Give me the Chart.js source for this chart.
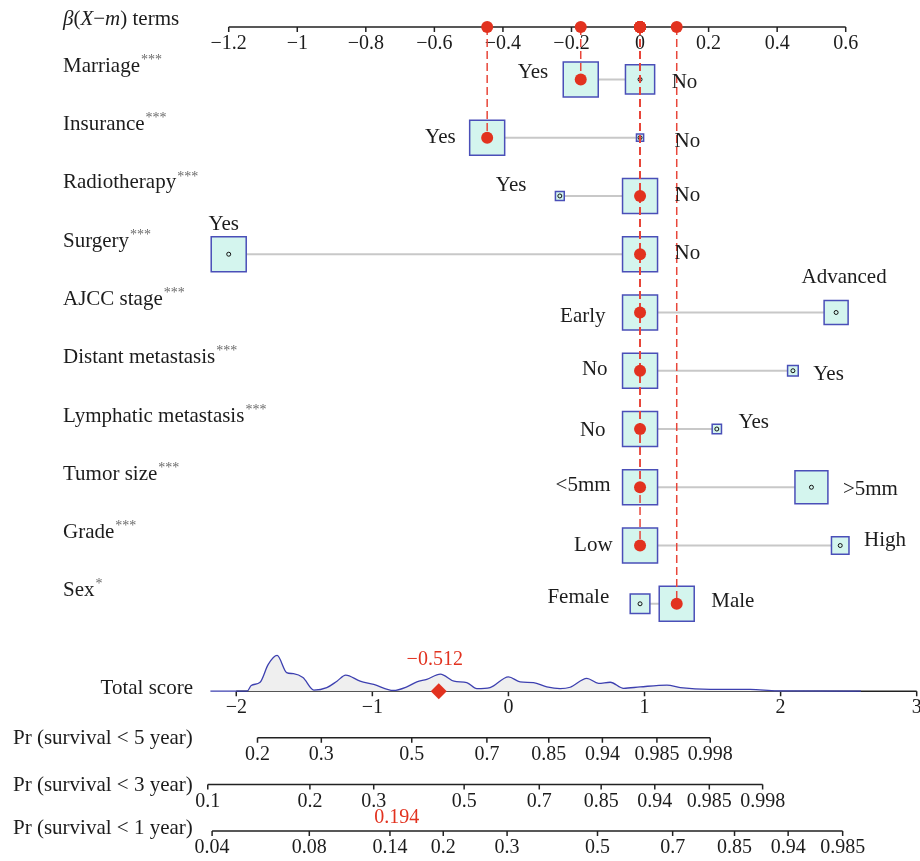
<!DOCTYPE html>
<html lang="en">
  <head>
    <meta charset="UTF-8" />
    <title>Nomogram - Chart.js</title>
    <script src="https://cdn.jsdelivr.net/npm/chart.js"></script>
    <style>
      body {
        margin: 0;
        background: #ffffff;
      }
      canvas {
        display: block;
      }
    </style>
  </head>
  <body>
    <canvas id="nomogram" width="920" height="861"></canvas>

    <script>
      const variables = [
        "Marriage",
        "Insurance",
        "Radiotherapy",
        "Surgery",
        "AJCC stage",
        "Distant metastasis",
        "Lymphatic metastasis",
        "Tumor size",
        "Grade",
        "Sex",
      ];
      const signif = ["***", "***", "***", "***", "***", "***", "***", "***", "***", "*"];
      const levels = [
        ["Yes", "No"],
        ["Yes", "No"],
        ["Yes", "No"],
        ["Yes", "No"],
        ["Early", "Advanced"],
        ["No", "Yes"],
        ["No", "Yes"],
        ["<5mm", ">5mm"],
        ["Low", "High"],
        ["Female", "Male"],
      ];
      // beta(X-m) term of each level
      const betaTerms = [
        [-0.173, 0],
        [-0.446, 0],
        [-0.234, 0],
        [-1.2, 0],
        [0, 0.572],
        [0, 0.446],
        [0, 0.224],
        [0, 0.5],
        [0, 0.584],
        [0, 0.107],
      ];
      // share of patients in each level (box area)
      const levelFreq = [
        [0.59, 0.41],
        [0.96, 0.04],
        [0.06, 0.94],
        [0.5, 0.5],
        [0.68, 0.32],
        [0.915, 0.085],
        [0.934, 0.066],
        [0.53, 0.47],
        [0.8, 0.2],
        [0.24, 0.76],
      ];
      // level of the highlighted patient
      const selected = [0, 0, 1, 1, 0, 0, 0, 0, 0, 1];

      const betaTicks = [-1.2, -1, -0.8, -0.6, -0.4, -0.2, 0, 0.2, 0.4, 0.6];
      const scoreTicks = [-2, -1, 0, 1, 2, 3];

      // total score distribution (relative density)
      const densityScore = [
        -2.19, -1.92, -1.89, -1.825, -1.765, -1.7, -1.63, -1.58, -1.51, -1.43,
        -1.335, -1.26, -1.196, -1.09, -0.99, -0.845, -0.747, -0.673, -0.6, -0.5,
        -0.4, -0.306, -0.232, -0.135, 0, 0.086, 0.184, 0.282, 0.38, 0.454, 0.576,
        0.662, 0.748, 0.846, 0.968, 1.165, 1.263, 1.483, 1.777, 1.973, 2.59,
      ];
      const densityValue = [
        0, 0, 0.16, 0.25, 0.75, 1.0, 0.52, 0.49, 0.38, 0.03, 0.1, 0.28, 0.45,
        0.28, 0.19, 0.02, 0.12, 0.26, 0.33, 0.48, 0.28, 0.24, 0.07, 0.1, 0.4,
        0.26, 0.24, 0.12, 0.07, 0.11, 0.36, 0.22, 0.25, 0.08, 0.12, 0.17, 0.1,
        0.05, 0.05, 0.01, 0,
      ];

      const survivalYears = [5, 3, 1];
      const logCumHazard = [0.344, -0.041, -1.021];
      const probTicks = [
        [0.2, 0.3, 0.5, 0.7, 0.85, 0.94, 0.985, 0.998],
        [0.1, 0.2, 0.3, 0.5, 0.7, 0.85, 0.94, 0.985, 0.998],
        [0.04, 0.08, 0.14, 0.2, 0.3, 0.5, 0.7, 0.85, 0.94, 0.985],
      ];

      // layout
      const ROW_TOP_AXIS = -0.9;
      const ROW_SCORE = 10.5;
      const ROW_PROB = [11.3, 12.1, 12.9];
      const ROW_MIN = -0.9;
      const ROW_MAX = 12.9;
      const DENS_PEAK = 0.613;
      const BOX_MAX = 35;
      const FONT_FAMILY = '"Liberation Serif", "DejaVu Serif", serif';
      const FONT = "20px " + FONT_FAMILY;
      const LABEL_FONT = "21px " + FONT_FAMILY;
      const TEXT = "#1c1c1c";
      const RED = "#e2321f";
      const DASH_RED = "#e8463a";
      // [anchor, dx, dy] for level labels: L = left of box, R = right, T = above
      const labelPos = [
        [["L", 0, -7], ["R", 2, 3]],
        [["L", 1, 0], ["R", 16, 4]],
        [["L", -14, -10], ["R", 2, 0]],
        [["T", -5, -30], ["R", 2, -1]],
        [["L", -2, 4], ["T", 8, -35]],
        [["L", 0, -1], ["R", 0, 4]],
        [["L", -2, 1], ["R", 2, -7]],
        [["L", 3, -2], ["R", 0, 2]],
        [["L", 5, 0], ["R", 0, -5]],
        [["L", -6, -6], ["R", 2, -2]],
      ];

      const totalScore = selected.reduce((s, lv, i) => s + betaTerms[i][lv], 0);
      const probToScore = (p, k) => Math.log(-Math.log(1 - p)) - logCumHazard[k];
      const scoreToProb = (s, k) => 1 - Math.exp(-Math.exp(s + logCumHazard[k]));
      const boxSide = (i, j) =>
        BOX_MAX * Math.sqrt(levelFreq[i][j] / Math.max(...levelFreq[i]));
      const fmt = (v) => (v < 0 ? "\u2212" + Math.abs(v) : String(v));

      const datasets = [];
      datasets.push({
        type: "line",
        data: densityScore.map((x, i) => ({ x: x, y: densityValue[i] })),
        xAxisID: "score",
        yAxisID: "dens",
        borderColor: "#3d40b0",
        borderWidth: 1.3,
        backgroundColor: "#efefef",
        fill: "origin",
        pointRadius: 0,
        cubicInterpolationMode: "monotone",
        order: 9,
      });
      variables.forEach((v, i) => {
        datasets.push({
          type: "line",
          data: [
            { x: Math.min(...betaTerms[i]), y: i },
            { x: Math.max(...betaTerms[i]), y: i },
          ],
          xAxisID: "beta",
          yAxisID: "row",
          borderColor: "#c8c8c8",
          borderWidth: 2,
          pointRadius: 0,
          order: 8,
        });
      });

      const boxPoints = [];
      const boxRadius = [];
      variables.forEach((v, i) => {
        levels[i].forEach((lv, j) => {
          boxPoints.push({ x: betaTerms[i][j], y: i });
          boxRadius.push(boxSide(i, j) / Math.SQRT2);
        });
      });
      datasets.push({
        type: "scatter",
        data: boxPoints,
        xAxisID: "beta",
        yAxisID: "row",
        pointStyle: "rect",
        pointRadius: boxRadius,
        pointHoverRadius: boxRadius,
        backgroundColor: "#d4f5ee",
        borderColor: "#4a4fb8",
        borderWidth: 1.5,
        order: 7,
      });
      datasets.push({
        type: "scatter",
        data: boxPoints,
        xAxisID: "beta",
        yAxisID: "row",
        pointRadius: 2,
        backgroundColor: "rgba(0,0,0,0)",
        borderColor: "#111111",
        borderWidth: 1,
        order: 6,
      });

      const chosen = variables.map((v, i) => ({ x: betaTerms[i][selected[i]], y: i }));
      chosen.forEach((pt) => {
        datasets.push({
          type: "line",
          data: [{ x: pt.x, y: ROW_TOP_AXIS }, pt],
          xAxisID: "beta",
          yAxisID: "row",
          borderColor: DASH_RED,
          borderWidth: 1.5,
          borderDash: [8, 4],
          pointRadius: 0,
          order: 5,
        });
      });
      datasets.push({
        type: "scatter",
        data: chosen.concat(chosen.map((pt) => ({ x: pt.x, y: ROW_TOP_AXIS }))),
        xAxisID: "beta",
        yAxisID: "row",
        pointRadius: 6,
        backgroundColor: RED,
        borderWidth: 0,
        order: 4,
      });
      datasets.push({
        type: "scatter",
        data: [{ x: totalScore, y: ROW_SCORE }],
        xAxisID: "score",
        yAxisID: "row",
        pointStyle: "rectRot",
        pointRadius: 8,
        backgroundColor: RED,
        borderWidth: 0,
        order: 2,
      });
      datasets.forEach((d) => (d.clip = false));

      function drawAxis(ctx, scale, values, labels, y) {
        const xs = values.map((v) => scale.getPixelForValue(v));
        ctx.strokeStyle = "#222222";
        ctx.lineWidth = 1.5;
        ctx.beginPath();
        ctx.moveTo(xs[0], y);
        ctx.lineTo(xs[xs.length - 1], y);
        xs.forEach((x) => {
          ctx.moveTo(x, y);
          ctx.lineTo(x, y + 5);
        });
        ctx.stroke();
        ctx.font = FONT;
        ctx.fillStyle = TEXT;
        ctx.textAlign = "center";
        ctx.textBaseline = "middle";
        xs.forEach((x, i) => ctx.fillText(labels[i], x, y + 17));
      }

      const nomogramAxes = {
        id: "nomogramAxes",
        beforeDatasetsDraw(chart) {
          const { ctx, scales } = chart;
          const row = scales.row;
          ctx.save();
          drawAxis(ctx, scales.beta, betaTicks, betaTicks.map(fmt), row.getPixelForValue(ROW_TOP_AXIS));
          drawAxis(ctx, scales.score, scoreTicks, scoreTicks.map(fmt), row.getPixelForValue(ROW_SCORE));
          survivalYears.forEach((yr, k) => {
            drawAxis(
              ctx,
              scales.score,
              probTicks[k].map((p) => probToScore(p, k)),
              probTicks[k].map(String),
              row.getPixelForValue(ROW_PROB[k])
            );
          });
          ctx.restore();
        },
        afterDatasetsDraw(chart) {
          const { ctx, scales } = chart;
          const row = scales.row;
          const beta = scales.beta;
          const score = scales.score;
          ctx.save();
          ctx.textBaseline = "middle";

          // title with italic symbols
          let x = 63;
          const titleY = row.getPixelForValue(ROW_TOP_AXIS) - 8;
          [["β", true], ["(", false], ["X", true], ["\u2212", false], ["m", true], [") terms", false]].forEach(
            ([t, it]) => {
              ctx.font = (it ? "italic " : "") + LABEL_FONT;
              ctx.fillStyle = TEXT;
              ctx.textAlign = "left";
              ctx.fillText(t, x, titleY);
              x += ctx.measureText(t).width;
            }
          );

          variables.forEach((name, i) => {
            const yRow = row.getPixelForValue(i);
            ctx.font = LABEL_FONT;
            ctx.fillStyle = TEXT;
            ctx.textAlign = "left";
            ctx.fillText(name, 63, yRow - 13);
            const w = ctx.measureText(name).width;
            ctx.font = "14px " + FONT_FAMILY;
            ctx.fillStyle = "#6a6a6a";
            ctx.fillText(signif[i], 64 + w, yRow - 19);

            ctx.font = LABEL_FONT;
            ctx.fillStyle = TEXT;
            levels[i].forEach((lv, j) => {
              const [anchor, dx, dy] = labelPos[i][j];
              const cx = beta.getPixelForValue(betaTerms[i][j]);
              const half = boxSide(i, j) / 2;
              if (anchor === "L") {
                ctx.textAlign = "right";
                ctx.fillText(lv, cx - half - 15 + dx, yRow + dy);
              } else if (anchor === "R") {
                ctx.textAlign = "left";
                ctx.fillText(lv, cx + half + 15 + dx, yRow + dy);
              } else {
                ctx.textAlign = "center";
                ctx.fillText(lv, cx + dx, yRow + dy);
              }
            });
          });

          ctx.font = LABEL_FONT;
          ctx.fillStyle = TEXT;
          ctx.textAlign = "right";
          ctx.fillText("Total score", 193, row.getPixelForValue(ROW_SCORE) - 3);
          ctx.textAlign = "left";
          survivalYears.forEach((yr, k) => {
            const dy = k === 2 ? -3 : 1;
            ctx.fillText("Pr (survival < " + yr + " year)", 13, row.getPixelForValue(ROW_PROB[k]) + dy);
          });

          ctx.font = FONT;
          ctx.fillStyle = RED;
          ctx.textAlign = "center";
          ctx.fillText(
            fmt(Number(totalScore.toFixed(3))),
            score.getPixelForValue(totalScore) - 4,
            row.getPixelForValue(ROW_SCORE) - 31
          );
          const p1 = scoreToProb(totalScore, 2);
          ctx.fillText(
            p1.toFixed(3),
            score.getPixelForValue(probToScore(p1, 2)) - 42,
            row.getPixelForValue(ROW_PROB[2]) - 13
          );
          ctx.restore();
        },
      };

      const config = {
        type: "scatter",
        data: { datasets: datasets },
        options: {
          responsive: false,
          devicePixelRatio: 1,
          animation: false,
          events: [],
          layout: {
            autoPadding: false,
            padding: { left: 210, right: 3.3, top: 27, bottom: 30 },
          },
          plugins: {
            legend: { display: false },
            tooltip: { enabled: false },
          },
          scales: {
            beta: { type: "linear", axis: "x", position: "top", min: -1.2546, max: 0.8071, bounds: "data", display: false },
            score: { type: "linear", axis: "x", position: "bottom", min: -2.193, max: 3, bounds: "data", display: false },
            row: { type: "linear", axis: "y", position: "left", reverse: true, min: ROW_MIN, max: ROW_MAX, bounds: "data", display: false },
            dens: {
              type: "linear",
              axis: "y",
              position: "right",
              min: (ROW_SCORE - ROW_MAX) / DENS_PEAK,
              max: (ROW_SCORE - ROW_MIN) / DENS_PEAK,
              bounds: "data",
              display: false,
            },
          },
        },
        plugins: [nomogramAxes],
      };

      const ctx = document.getElementById("nomogram").getContext("2d");
      const nomogram = new Chart(ctx, config);
    </script>
  </body>
</html>
